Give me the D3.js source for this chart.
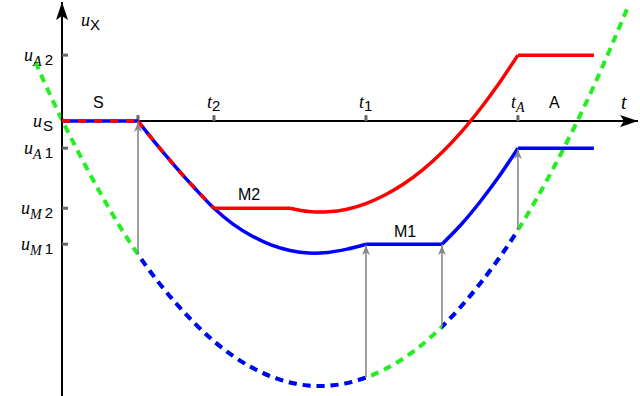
<!DOCTYPE html>
<html>
<head>
<meta charset="utf-8">
<script src="https://cdn.jsdelivr.net/npm/d3@7"></script>
<style>
  body { margin: 0; background: #fff; }
  svg { display: block; }
</style>
</head>
<body>
<svg id="chart" width="640" height="396"></svg>
<script>
// values (t in tick units, u in arbitrary units, 0 = uS)
let tTicks = [1, 2, 4, 6];
let tTickNames = ["", "2", "1", "A"];
let uTicks = [2, 0, -0.82, -2.64, -3.73];
let uTickBase = ["A", "S", "A", "M", "M"];
let uTickIdx = ["2", "", "1", "2", "1"];

// dashed parabola
let parT = [-0.35, 0, 0.5, 1, 1.5, 2, 2.5, 3, 3.5, 4, 4.5, 5, 5.5, 6, 6.5, 7, 7.45];
let parU = [1.79, 0.04, -2.16, -4.04, -5.52, -6.67, -7.47, -7.92, -8.02, -7.77, -7.18, -6.23, -4.93, -3.30, -1.28, 1.07, 3.48];
let blueParts = [[1, 4], [5, 6]];

// M1 path (blue)
let m1DropT = [1, 1.25, 1.5, 1.75, 2, 2.25, 2.5, 2.75, 3, 3.25, 3.5, 3.75, 4];
let m1DropU = [0, -0.72, -1.40, -2.04, -2.64, -3.12, -3.48, -3.75, -3.92, -4.0, -3.98, -3.88, -3.73];
let m1RiseT = [5, 5.25, 5.5, 5.75, 6];
let m1RiseU = [-3.73, -3.14, -2.45, -1.68, -0.82];
// M2 path (red)
let m2DipT = [3, 3.25, 3.5, 3.75, 4, 4.25, 4.5, 4.75, 5, 5.25, 5.5, 5.75, 6];
let m2DipU = [-2.64, -2.74, -2.75, -2.67, -2.50, -2.24, -1.90, -1.47, -0.95, -0.34, 0.36, 1.14, 2.0];

// gray arrows: from parabola up to the path
let arrowT = [1, 4, 5, 6];
let arrowFrom = [-4.04, -7.77, -6.23, -3.30];
let arrowTo = [0, -3.73, -3.73, -0.82];

const svg = d3.select("#chart");
const x = d3.scaleLinear().domain([0, 7.58]).range([62, 638]);
const y = d3.scaleLinear().domain([-8.33, 3.61]).range([396, 2]);

const RED = "#f00", BLUE = "#00f", GREEN = "#2e2", GRAY = "#888";
const serif = "'Liberation Serif', 'DejaVu Serif', serif";
const sans = "'Liberation Sans', Arial, sans-serif";

let zip = (ts, us) => ts.map((t, i) => [t, us[i]]);

const defs = svg.append("defs");
defs.append("marker").attr("id", "gArrow")
  .attr("viewBox", "0 0 10 8").attr("refX", 10).attr("refY", 4)
  .attr("markerWidth", 10).attr("markerHeight", 8)
  .attr("markerUnits", "userSpaceOnUse").attr("orient", "auto")
  .append("path").attr("d", "M0,0 L10,4 L0,8 L3,4 Z").attr("fill", GRAY);
defs.append("marker").attr("id", "kArrow")
  .attr("viewBox", "0 0 18 12").attr("refX", 18).attr("refY", 6)
  .attr("markerWidth", 18).attr("markerHeight", 12)
  .attr("markerUnits", "userSpaceOnUse").attr("orient", "auto")
  .append("path").attr("d", "M0,0 L18,6 L0,12 L4,6 Z").attr("fill", "#000");

blueParts.forEach((p, i) => {
  defs.append("clipPath").attr("id", "clip" + i)
    .append("rect").attr("x", x(p[0])).attr("y", 0)
    .attr("width", x(p[1]) - x(p[0])).attr("height", 396);
});

const lineC = d3.line().x(d => x(d[0])).y(d => y(d[1])).curve(d3.curveCatmullRom);
const lineN = d3.line().x(d => x(d[0])).y(d => y(d[1])).curve(d3.curveNatural);

// parabola
let par = zip(parT, parU);
svg.append("path").attr("d", lineN(par)).attr("fill", "none")
  .attr("stroke", GREEN).attr("stroke-width", 4).attr("stroke-dasharray", "8,6");
blueParts.forEach((p, i) => {
  svg.append("path").attr("d", lineN(par)).attr("fill", "none")
    .attr("clip-path", "url(#clip" + i + ")")
    .attr("stroke", BLUE).attr("stroke-width", 4).attr("stroke-dasharray", "8,6");
});

// axes
svg.append("line").attr("x1", x(0)).attr("x2", x(0)).attr("y1", 396).attr("y2", 2)
  .attr("stroke", "#000").attr("stroke-width", 2).attr("marker-end", "url(#kArrow)");
svg.append("line").attr("x1", x(0)).attr("x2", 638).attr("y1", y(0)).attr("y2", y(0))
  .attr("stroke", "#000").attr("stroke-width", 2).attr("marker-end", "url(#kArrow)");

svg.selectAll(".xt").data(tTicks).enter().append("rect")
  .attr("x", d => x(d) - 1.5).attr("y", y(0) - 6).attr("width", 3).attr("height", 6)
  .attr("fill", "#666");
svg.selectAll(".yt").data(uTicks.filter(d => d !== 0)).enter().append("rect")
  .attr("x", x(0)).attr("y", d => y(d) - 1.5).attr("width", 6).attr("height", 3)
  .attr("fill", "#666");

// M1 (blue)
let m1Drop = zip(m1DropT, m1DropU);
let bluePath = [
  lineC([[0, 0], [1, 0]]),
  lineC(m1Drop),
  lineC([[4, -3.73], [5, -3.73]]),
  lineC(zip(m1RiseT, m1RiseU)),
  lineC([[6, -0.82], [7, -0.82]])
].join("");
svg.append("path").attr("d", bluePath).attr("fill", "none")
  .attr("stroke", BLUE).attr("stroke-width", 3.5);

// M2 (red): shares the path with M1 up to t2, drawn dashed on top
let redShared = [[0, 0]].concat(m1Drop.filter(d => d[0] <= 2));
svg.append("path").attr("d", lineC([[0, 0], [1, 0]]) + lineC(redShared.slice(1))).attr("fill", "none")
  .attr("stroke", RED).attr("stroke-width", 3.5).attr("stroke-dasharray", "8,8");
let redPath = [
  lineC([[2, -2.64], [3, -2.64]]),
  lineC(zip(m2DipT, m2DipU)),
  lineC([[6, 2], [7, 2]])
].join("");
svg.append("path").attr("d", redPath).attr("fill", "none")
  .attr("stroke", RED).attr("stroke-width", 3.5);

// arrows
arrowT.forEach((t, i) => {
  svg.append("line").attr("x1", x(t)).attr("x2", x(t))
    .attr("y1", y(arrowFrom[i])).attr("y2", y(arrowTo[i]) + 1)
    .attr("stroke", GRAY).attr("stroke-width", 1.6).attr("marker-end", "url(#gArrow)");
});

// labels
uTicks.forEach((u, i) => {
  let tx = svg.append("text").attr("x", 53).attr("y", y(u) + 6).attr("text-anchor", "end");
  tx.append("tspan").text("u").attr("font-family", serif).attr("font-style", "italic").attr("font-size", 18);
  if (uTickBase[i] === "S") {
    tx.append("tspan").text("S").attr("font-family", sans).attr("font-size", 15).attr("dy", 4).attr("dx", 1);
  } else {
    tx.append("tspan").text(uTickBase[i]).attr("font-family", serif).attr("font-style", "italic")
      .attr("font-size", 14).attr("dy", 5).attr("dx", 0);
    tx.append("tspan").text(uTickIdx[i]).attr("font-family", sans).attr("font-size", 15)
      .attr("dy", -1).attr("dx", 3);
  }
});

let ux = svg.append("text").attr("x", 81).attr("y", 26);
ux.append("tspan").text("u").attr("font-family", serif).attr("font-style", "italic").attr("font-size", 18);
ux.append("tspan").text("X").attr("font-family", sans).attr("font-size", 15).attr("dy", 4);

tTicks.forEach((t, i) => {
  if (!tTickNames[i]) return;
  let tx = svg.append("text").attr("x", x(t) - 7).attr("y", 108);
  tx.append("tspan").text("t").attr("font-family", serif).attr("font-style", "italic").attr("font-size", 18);
  if (tTickNames[i] === "A") {
    tx.append("tspan").text("A").attr("font-family", serif).attr("font-style", "italic")
      .attr("font-size", 14).attr("dy", 4);
  } else {
    tx.append("tspan").text(tTickNames[i]).attr("font-family", sans).attr("font-size", 15).attr("dy", 3);
  }
});

svg.append("text").attr("x", 621).attr("y", 109).text("t")
  .attr("font-family", serif).attr("font-style", "italic").attr("font-size", 20);
svg.append("text").attr("x", 93).attr("y", 108).text("S")
  .attr("font-family", sans).attr("font-size", 16);
svg.append("text").attr("x", 549).attr("y", 108).text("A")
  .attr("font-family", sans).attr("font-size", 16);
svg.append("text").attr("x", 238).attr("y", 200).text("M2")
  .attr("font-family", sans).attr("font-size", 16);
svg.append("text").attr("x", 394).attr("y", 237).text("M1")
  .attr("font-family", sans).attr("font-size", 16);
</script>
</body>
</html>
